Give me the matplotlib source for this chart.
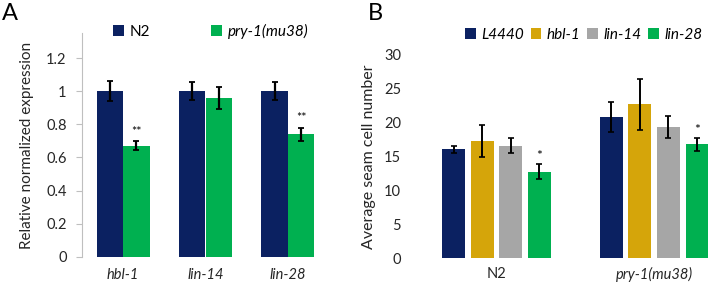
import matplotlib
matplotlib.use('Agg')
import matplotlib.pyplot as plt
import numpy as np

plt.rcParams['font.family'] = ['Lato', 'DejaVu Sans']

# panel A data
genes = ['hbl-1', 'lin-14', 'lin-28']
n2_expr = [1.0, 1.0, 1.0]
n2_err = [0.06, 0.055, 0.055]
pry_expr = [0.67, 0.96, 0.74]
pry_err = [0.028, 0.068, 0.04]
pry_sig = ['**', '', '**']
yticks_a = [0, 0.2, 0.4, 0.6, 0.8, 1.0, 1.2]
yticklabels_a = ['0', '0.2', '0.4', '0.6', '0.8', '1', '1.2']

# panel B data
strains = ['N2', 'pry-1(mu38)']
rnai = ['L4440', 'hbl-1', 'lin-14', 'lin-28']
l4440 = [16.1, 20.9]
l4440_err = [0.5, 2.2]
hbl1 = [17.3, 22.7]
hbl1_err = [2.4, 3.7]
lin14 = [16.6, 19.4]
lin14_err = [1.1, 1.6]
lin28 = [12.8, 16.8]
lin28_err = [1.05, 0.9]
lin28_sig = ['*', '*']

NAVY = '#0b2161'
GREEN = '#00b050'
GOLD = '#d5a50a'
GRAY = '#a6a6a6'
TXT = '#262626'
FS = 10.5

fig = plt.figure(figsize=(7.09, 2.83), dpi=100)

# ---------------- panel A ----------------
axA = fig.add_axes([82/709, 1-256.7/283, 247/709, 223.4/283])
x = np.arange(len(genes))
w = 0.32
axA.bar(x - w/2, n2_expr, w, color=NAVY, yerr=n2_err, capsize=2.5,
        error_kw=dict(ecolor='black', elinewidth=1.6, capthick=1.3), label='N2')
axA.bar(x + w/2, pry_expr, w, color=GREEN, yerr=pry_err, capsize=2.5,
        error_kw=dict(ecolor='black', elinewidth=1.6, capthick=1.3), label='pry-1(mu38)')
for i in range(len(genes)):
    if pry_sig[i]:
        axA.text(x[i] + w/2, pry_expr[i] + pry_err[i] + 0.02, pry_sig[i],
                 ha='center', va='bottom', fontsize=9, color='black')
axA.set_xlim(-0.5, 2.5)
axA.set_ylim(0, 1.35)
axA.set_yticks(yticks_a)
axA.set_yticklabels(yticklabels_a)
axA.set_xticks(x)
axA.set_xticklabels(genes, style='italic')
for s in ['top', 'right', 'bottom']:
    axA.spines[s].set_visible(False)
axA.spines['left'].set_color('#bfbfbf')
axA.tick_params(axis='y', colors='#bfbfbf', length=4, width=0.8, pad=7,
                labelcolor=TXT, labelsize=FS)
axA.tick_params(axis='x', length=0, pad=8, labelcolor=TXT, labelsize=FS)
axA.set_ylabel('Relative normalized expression', fontsize=11, color=TXT, labelpad=9)
leg = axA.legend(loc='center left', bbox_to_anchor=(0.125, 1.01), ncol=2,
                 frameon=False, fontsize=11, handlelength=0.7, handleheight=0.7,
                 columnspacing=4.0, handletextpad=0.4, borderpad=0, borderaxespad=0)
leg.get_texts()[1].set_style('italic')
fig.text(0.003, 0.99, 'A', fontsize=17, va='top', ha='left', color='black')

# ---------------- panel B ----------------
axB = fig.add_axes([417.75/709, 1-258.3/283, 315/709, 203.3/283])
xb = np.arange(len(strains))
wb = 0.143
pitch = 0.181
series = [(l4440, l4440_err, NAVY), (hbl1, hbl1_err, GOLD),
          (lin14, lin14_err, GRAY), (lin28, lin28_err, GREEN)]
for k, (vals, errs, col) in enumerate(series):
    axB.bar(xb + (k - 1.5) * pitch, vals, wb, color=col, yerr=errs, capsize=2,
            error_kw=dict(ecolor='black', elinewidth=1.4, capthick=1.2), label=rnai[k])
for i in range(len(strains)):
    axB.text(xb[i] + 1.5 * pitch, lin28[i] + lin28_err[i] + 0.3, lin28_sig[i],
             ha='center', va='bottom', fontsize=10, color='black')
axB.set_xlim(-0.5, 1.5)
axB.set_ylim(0, 30)
axB.set_yticks(np.arange(0, 31, 5))
axB.set_xticks(xb)
axB.set_xticklabels(strains)
axB.get_xticklabels()[1].set_style('italic')
for s in axB.spines.values():
    s.set_visible(False)
axB.tick_params(axis='both', length=0, labelcolor=TXT, labelsize=FS)
axB.tick_params(axis='y', pad=12)
axB.tick_params(axis='x', pad=6)
axB.set_ylabel('Average seam cell number', fontsize=11.5, color=TXT, labelpad=6)
legB = axB.legend(loc='center left', bbox_to_anchor=(0.15, 1.098), ncol=4,
                  frameon=False, fontsize=11, handlelength=0.7, handleheight=0.7,
                  columnspacing=0.45, handletextpad=0.35, borderpad=0, borderaxespad=0)
for t in legB.get_texts():
    t.set_style('italic')
fig.text(368/709, 0.99, 'B', fontsize=17, va='top', ha='left', color='black')

plt.savefig('out.png', dpi=100)
